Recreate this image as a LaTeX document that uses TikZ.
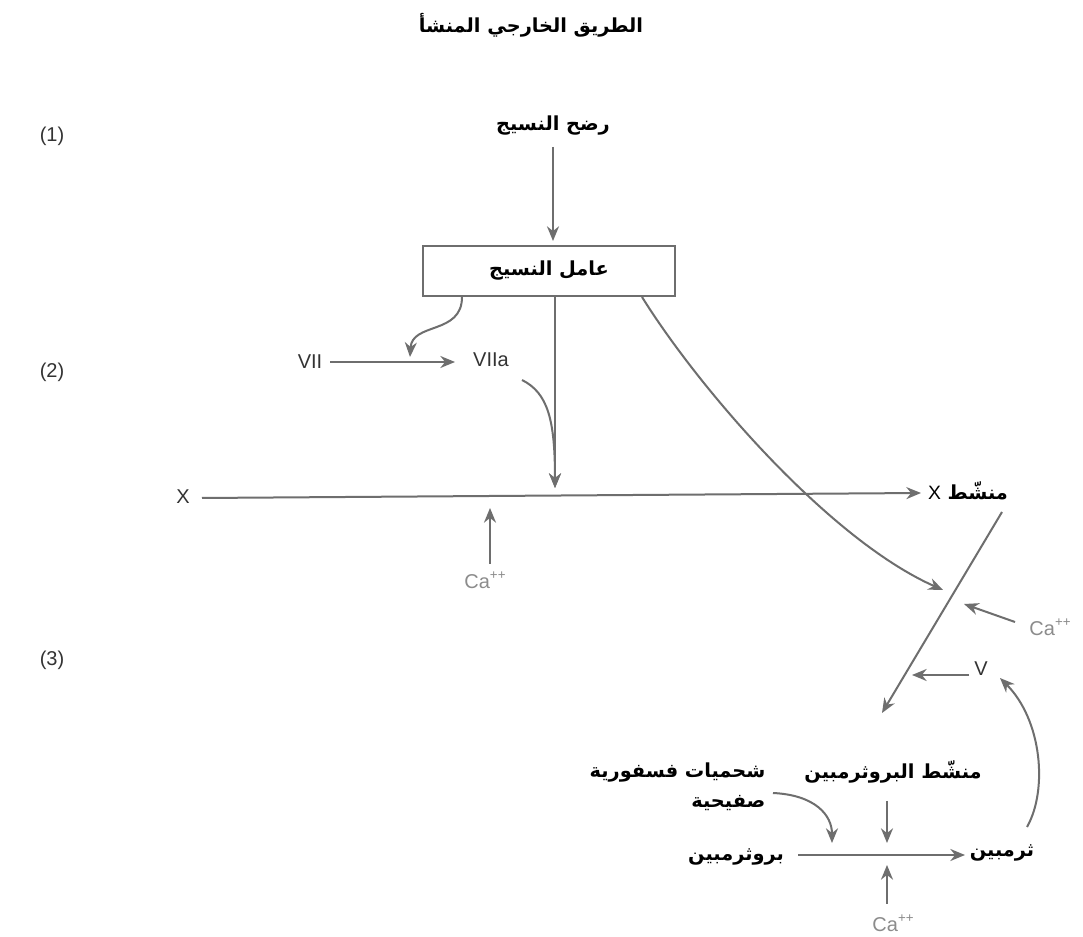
\documentclass[tikz,border=0pt]{standalone}
\usepackage{fontspec}
\setmainfont{Liberation Sans}
\newfontfamily\arfont[Script=Arabic]{DejaVu Sans}
\TeXXeTstate=1
\usetikzlibrary{arrows.meta}
\definecolor{arrgrey}{HTML}{6E6E6E}
\definecolor{cagrey}{HTML}{8C8C8C}
\definecolor{latgrey}{HTML}{333333}
\newcommand{\capp}{Ca\raisebox{0.45em}{\fontsize{10}{10}\selectfont ++}}
\begin{document}
\begin{tikzpicture}[x=0.75pt,y=-0.75pt,
  arr/.style={draw=arrgrey,line width=1.5pt,-{Stealth[length=11pt,width=9pt]}},
  ln/.style={draw=arrgrey,line width=1.5pt},
  artext/.style={font=\arfont\bfseries\fontsize{14.5}{22.5}\selectfont,text=black,inner sep=1pt},
  lat/.style={font=\fontsize{15}{17}\selectfont,text=latgrey,inner sep=1pt},
  catext/.style={font=\fontsize{15}{17}\selectfont,text=cagrey,inner sep=1pt},
  tfbox/.style={draw=arrgrey,line width=1.5pt,fill=white,minimum width=189pt,minimum height=37pt,font=\arfont\bfseries\fontsize{14.5}{17}\selectfont}]
\useasboundingbox[fill=white] (0,0) rectangle (1083,937);

% labels
\node[artext] (title) at (531,25) {\beginR الطريق الخارجي المنشأ\endR};
\node[lat] (n1) at (52,136) {(1)};
\node[lat] (n2) at (52,372) {(2)};
\node[lat] (n3) at (52,660) {(3)};

% top
\node[artext] (rd) at (553,126) {\beginR رضح النسيج\endR};
\node[tfbox] (tf) at (549,271) {\beginR عامل النسيج\endR};
\draw[arr] (553,147) -- (553,241);

% VII
\node[lat] (vii) at (310,362) {VII};
\node[lat] (viia) at (491,360) {VIIa};
\draw[arr] (330,362) -- (455,362);
\coordinate (tfL) at (462,297);
\coordinate (j7) at (410,357);
\draw[arr] (tfL) .. controls (462,335) and (412,322) .. (j7);

% to X line
\coordinate (tfM) at (555,297);
\coordinate (jX) at (555,488);
\draw[ln] (tfM) -- (555,470);
\coordinate (vaS) at (522,380);
\draw[arr] (vaS) .. controls (548,393) and (555,420) .. (jX);
\draw[arr] (555,465) -- (jX);

% X line
\node[lat] (x) at (183,497) {X};
\node[artext] (xa) at (968,491) {\beginR منشّط {\fontspec{Liberation Sans}\mdseries X}\endR};
\draw[arr] (202,498) -- (921,493);
\node[catext] (ca1) at (485,580) {\capp};
\draw[arr] (490,564) -- (490,508);

% big curve
\coordinate (tfR) at (642,297);
\coordinate (jD) at (943,590);
\draw[arr] (tfR) .. controls (700,390) and (830,540) .. (jD);

% diagonal
\coordinate (dTop) at (1002,512);
\coordinate (dBot) at (882,713);
\draw[arr] (dTop) -- (dBot);
\node[catext] (ca2) at (1050,627) {\capp};
\draw[arr] (1015,622) -- (964,604);
\node[lat] (v) at (981,669) {V};
\draw[arr] (969,675) -- (912,675);

% bottom
\node[artext] (pa) at (893,772) {\beginR منشّط البروثرمبين\endR};
\draw[arr] (887,801) -- (887,843);
\node[artext,anchor=east,align=right] (lip) at (767,787) {\beginR شحميات فسفورية\endR\\\beginR صفيحية\endR};
\draw[arr] (773,793) .. controls (815,795) and (832,815) .. (832,843);
\node[artext] (pro) at (736,857) {\beginR بروثرمبين\endR};
\node[artext] (thr) at (1002,853) {\beginR ثرمبين\endR};
\draw[arr] (798,855) -- (965,855);
\node[catext] (ca3) at (893,923) {\capp};
\draw[arr] (887,904) -- (887,865);
\draw[arr] (1027,827) .. controls (1048,790) and (1042,720) .. (1000,678);
\end{tikzpicture}
\end{document}
